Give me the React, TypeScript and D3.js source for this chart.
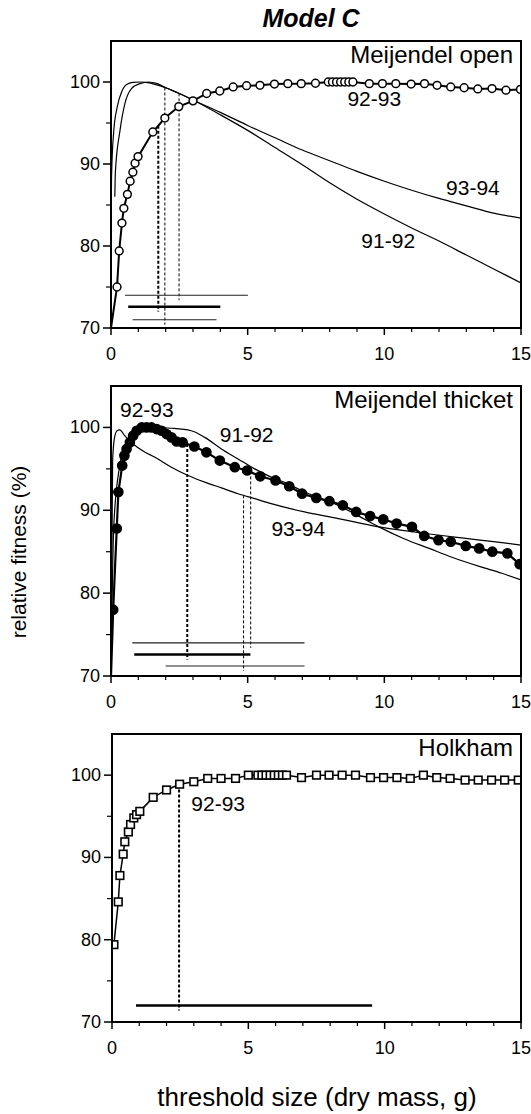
import React from 'react'
import * as d3 from 'd3'

type Pt = [number, number]

const W = 531
const H = 1114

const xTicks = [0, 5, 10, 15]
const xMinor = [1, 2, 3, 4, 6, 7, 8, 9, 11, 12, 13, 14]
const yTicks = [70, 80, 90, 100]
const yMinor = [75, 85, 95]
const years = ['91-92', '92-93', '93-94']

// Meijendel open
const open9293: Pt[] = [[0, 70], [0.22, 75.0], [0.3, 79.4], [0.4, 82.8], [0.47, 84.6], [0.6, 86.3], [0.7, 87.9], [0.8, 89.0], [0.88, 90.1], [0.99, 90.9], [1.53, 93.9], [1.97, 95.6], [2.48, 97.0], [3.0, 97.7], [3.5, 98.6], [3.98, 98.9], [4.47, 99.4], [4.96, 99.55], [5.45, 99.6], [5.98, 99.75], [6.47, 99.8], [6.96, 99.8], [7.48, 99.85], [7.95, 100], [8.1, 100], [8.25, 100], [8.4, 100], [8.55, 100], [8.7, 100], [8.85, 100], [9.45, 99.8], [9.93, 99.8], [10.42, 99.8], [10.98, 99.75], [11.47, 99.8], [11.93, 99.6], [12.43, 99.4], [12.92, 99.3], [13.42, 99.15], [13.94, 99.2], [14.45, 99.0], [14.98, 99.1]]
const open9192: Pt[] = [[0.0, 81], [0.01, 85], [0.02, 88.5], [0.1, 94], [0.23, 97], [0.39, 98.8], [0.57, 99.7], [0.8, 99.95], [1.06, 100], [1.4, 99.9], [2.0, 99.3], [2.5, 98.6], [3.0, 97.8], [4, 96.0], [5, 94.1], [6, 92.0], [7, 89.9], [8, 87.7], [9, 85.7], [10, 83.9], [11, 82.2], [12, 80.6], [13, 78.9], [14, 77.2], [15, 75.5]]
const open9394: Pt[] = [[0.14, 86], [0.16, 89], [0.33, 94.1], [0.51, 97.4], [0.75, 99.2], [1.06, 99.8], [1.36, 100], [1.7, 99.8], [2.0, 99.3], [2.5, 98.6], [3.0, 97.8], [4, 96.3], [5, 94.7], [6, 93.2], [7, 91.7], [8, 90.4], [9, 89.1], [10, 87.9], [11, 86.8], [12, 85.8], [13, 84.9], [14, 84.0], [15, 83.4]]
const openOptimum = [1.97, 1.73, 2.49]
const openLo = [0.79, 0.63, 0.51]
const openHi = [3.86, 4.0, 5.01]
const openLevel = [71.0, 72.6, 74.0]

// Meijendel thicket
const thicket9293: Pt[] = [[0, 70], [0.08, 78.0], [0.21, 87.8], [0.27, 92.2], [0.41, 95.4], [0.49, 96.6], [0.57, 97.4], [0.69, 98.2], [0.81, 99.0], [0.94, 99.6], [1.12, 100], [1.3, 100], [1.48, 100], [1.67, 99.8], [1.85, 99.6], [2.03, 99.2], [2.21, 98.8], [2.4, 98.3], [2.62, 98.2], [3.05, 97.7], [3.49, 97.0], [3.98, 96.0], [4.53, 95.2], [4.98, 94.8], [5.46, 94.1], [6.02, 93.6], [6.52, 92.9], [6.99, 92.0], [7.51, 91.5], [7.99, 91.1], [8.48, 90.6], [8.97, 89.8], [9.48, 89.3], [9.96, 88.9], [10.45, 88.4], [11.01, 88.0], [11.46, 86.9], [11.98, 86.4], [12.43, 86.2], [12.98, 85.7], [13.47, 85.4], [13.95, 85.0], [14.5, 84.8], [14.95, 83.5]]
const thicket9192: Pt[] = [[0.02, 75], [0.1, 88], [0.3, 95], [0.6, 98.5], [1.0, 99.8], [1.4, 100], [2.2, 99.9], [2.94, 99.6], [3.43, 98.8], [4.04, 97.4], [4.65, 96.2], [5.26, 95.0], [5.86, 94.0], [6.47, 93.2], [7.08, 92.2], [7.7, 91.4], [8.3, 90.6], [8.9, 89.6], [9.8, 88.0], [10.7, 86.6], [11.64, 85.4], [12.5, 84.3], [13.5, 83.2], [14.3, 82.4], [15, 81.6]]
const thicket9394: Pt[] = [[0.02, 80], [0.06, 96], [0.12, 98.6], [0.22, 99.6], [0.32, 99.7], [0.5, 99.0], [0.81, 98.0], [1.2, 97.1], [1.61, 96.4], [2.21, 95.2], [2.82, 94.2], [3.43, 93.4], [4.04, 92.7], [4.65, 92.0], [5.26, 91.4], [5.86, 90.8], [7.08, 89.8], [8.0, 89.2], [8.9, 88.6], [9.8, 88.0], [10.6, 87.6], [11.5, 87.2], [12.5, 86.8], [13.5, 86.4], [14.3, 86.1], [15, 85.8]]
const thicketOptimum = [5.11, 2.79, 4.85]
const thicketLo = [0.78, 0.85, 2.0]
const thicketHi = [7.08, 5.1, 7.08]
const thicketLevel = [74.0, 72.6, 71.2]

// Holkham
const holkham9293: Pt[] = [[0.07, 79.4], [0.23, 84.6], [0.29, 87.8], [0.41, 90.4], [0.47, 91.9], [0.6, 93.1], [0.68, 94.0], [0.8, 94.8], [0.9, 95.2], [1.02, 95.6], [1.51, 97.3], [2.0, 98.2], [2.48, 98.9], [3.0, 99.2], [3.51, 99.6], [4.0, 99.6], [4.53, 99.6], [5.0, 100], [5.35, 100], [5.5, 100], [5.65, 100], [5.8, 100], [5.95, 100], [6.1, 100], [6.25, 100], [6.4, 100], [6.95, 99.7], [7.5, 100], [7.96, 100], [8.44, 100], [8.93, 100], [9.48, 99.7], [9.96, 99.7], [10.45, 99.7], [10.94, 99.6], [11.42, 100], [11.91, 99.7], [12.4, 99.6], [12.95, 99.4], [13.43, 99.4], [13.92, 99.4], [14.4, 99.4], [14.9, 99.4]]
const holkhamOptimum = [2.46]
const holkhamLo = [0.88]
const holkhamHi = [9.54]
const holkhamLevel = [72.0]

const FONT = 'Liberation Sans, Arial, Helvetica, sans-serif'

const panels = [
  {
    name: 'Meijendel open', top: 41, bottom: 328, left: 111, marker: 'open',
    points: open9293, lineW: 2, curves: [open9192, open9394],
    series: [open9192, open9293, open9394], opt: openOptimum, lo: openLo, hi: openHi, level: openLevel,
    labels: [{ t: years[1], x: 8.65, y: 97.1 }, { t: years[2], x: 12.26, y: 86.2 }, { t: years[0], x: 9.16, y: 79.8 }],
  },
  {
    name: 'Meijendel thicket', top: 386, bottom: 676, left: 111, marker: 'filled',
    points: thicket9293, lineW: 2.2, curves: [thicket9192, thicket9394],
    series: [thicket9192, thicket9293, thicket9394], opt: thicketOptimum, lo: thicketLo, hi: thicketHi, level: thicketLevel,
    labels: [{ t: years[1], x: 0.33, y: 101.2 }, { t: years[0], x: 3.98, y: 98.2 }, { t: years[2], x: 5.87, y: 86.9 }],
  },
  {
    name: 'Holkham', top: 734, bottom: 1022, left: 112, marker: 'square',
    points: holkham9293, lineW: 1.5, curves: [] as Pt[][],
    series: [holkham9293], opt: holkhamOptimum, lo: holkhamLo, hi: holkhamHi, level: holkhamLevel,
    labels: [{ t: years[1], x: 2.91, y: 95.7 }],
  },
]

function valueAt(data: Pt[], x: number) {
  const i = d3.bisector((d: Pt) => d[0]).left(data, x)
  if (i <= 0) return data[0][1]
  if (i >= data.length) return data[data.length - 1][1]
  const [x0, y0] = data[i - 1]
  const [x1, y1] = data[i]
  return y0 + ((y1 - y0) * (x - x0)) / (x1 - x0)
}

function Panel({ p, idx }: { p: (typeof panels)[number]; idx: number }) {
  const x = d3.scaleLinear().domain([0, 15]).range([p.left, 521])
  const y = d3.scaleLinear().domain([70, 105]).range([p.bottom, p.top])
  const smooth = d3.line<Pt>().x(d => x(d[0])).y(d => y(d[1])).curve(d3.curveMonotoneX)
  const straight = d3.line<Pt>().x(d => x(d[0])).y(d => y(d[1]))
  const clipId = 'clip' + idx
  const marks = p.points.filter(d => d[1] > 70)
  const singleThick = p.series.length === 1

  return (
    <g>
      <defs>
        <clipPath id={clipId}>
          <rect x={p.left} y={p.top} width={521 - p.left} height={p.bottom - p.top} />
        </clipPath>
      </defs>
      <g clipPath={`url(#${clipId})`}>
        {p.curves.map((c, i) => (
          <path key={i} d={smooth(c) || ''} fill="none" stroke="#000" strokeWidth={1.2} />
        ))}
        {p.opt.map((o, i) => {
          const thick = singleThick || i === 1
          return (
            <g key={i}>
              <line x1={x(o)} x2={x(o)} y1={y(valueAt(p.series[i], o))} y2={y(p.level[i] - 0.6)}
                stroke="#000" strokeWidth={thick ? 2 : 1} strokeDasharray="3,2" />
              <line x1={x(p.lo[i])} x2={x(p.hi[i])} y1={y(p.level[i])} y2={y(p.level[i])}
                stroke={thick ? '#000' : '#222'} strokeWidth={thick ? 2.4 : 1.1} />
            </g>
          )
        })}
        <path d={straight(p.points) || ''} fill="none" stroke="#000" strokeWidth={p.lineW} />
        {marks.map((d, i) =>
          p.marker === 'square' ? (
            <rect key={i} x={x(d[0]) - 3.8} y={y(d[1]) - 3.8} width={7.6} height={7.6}
              fill="#fff" stroke="#000" strokeWidth={1.6} />
          ) : (
            <circle key={i} cx={x(d[0])} cy={y(d[1])} r={p.marker === 'filled' ? 4.6 : 3.9}
              fill={p.marker === 'filled' ? '#000' : '#fff'} stroke="#000" strokeWidth={1.5} />
          )
        )}
      </g>
      <rect x={p.left} y={p.top} width={521 - p.left} height={p.bottom - p.top}
        fill="none" stroke="#000" strokeWidth={2} />
      {xTicks.map(t => (
        <g key={'xt' + t}>
          <line x1={x(t)} x2={x(t)} y1={p.bottom} y2={p.bottom + 7} stroke="#000" strokeWidth={1.5} />
          <text x={x(t)} y={p.bottom + 32} textAnchor="middle" fontSize={18} fontFamily={FONT}>{t}</text>
        </g>
      ))}
      {xMinor.map(t => (
        <line key={'xm' + t} x1={x(t)} x2={x(t)} y1={p.bottom} y2={p.bottom + 4} stroke="#000" strokeWidth={1.2} />
      ))}
      {yTicks.map(t => (
        <g key={'yt' + t}>
          <line x1={p.left - 8} x2={p.left} y1={y(t)} y2={y(t)} stroke="#000" strokeWidth={1.5} />
          <text x={p.left - 11} y={y(t) + 6} textAnchor="end" fontSize={18} fontFamily={FONT}>{t}</text>
        </g>
      ))}
      {yMinor.map(t => (
        <line key={'ym' + t} x1={p.left - 5} x2={p.left} y1={y(t)} y2={y(t)} stroke="#000" strokeWidth={1.2} />
      ))}
      <text x={513} y={p.top + 22} textAnchor="end" fontSize={24} fontFamily={FONT}>{p.name}</text>
      {p.labels.map((l, i) => (
        <text key={i} x={x(l.x)} y={y(l.y)} fontSize={21} fontFamily={FONT}>{l.t}</text>
      ))}
    </g>
  )
}

export default function App() {
  return (
    <svg width={W} height={H} style={{ position: 'absolute', left: 0, top: 0, background: '#fff' }}>
      <rect width={W} height={H} fill="#fff" />
      <text x={311} y={27} textAnchor="middle" fontSize={25} fontWeight="bold" fontStyle="italic" fontFamily={FONT}>
        Model C
      </text>
      {panels.map((p, i) => (
        <Panel key={i} p={p} idx={i} />
      ))}
      <text transform="translate(26,552) rotate(-90)" textAnchor="middle" fontSize={21} fontFamily={FONT}>
        relative fitness (%)
      </text>
      <text x={317} y={1106} textAnchor="middle" fontSize={26} fontFamily={FONT}>
        threshold size (dry mass, g)
      </text>
    </svg>
  )
}
